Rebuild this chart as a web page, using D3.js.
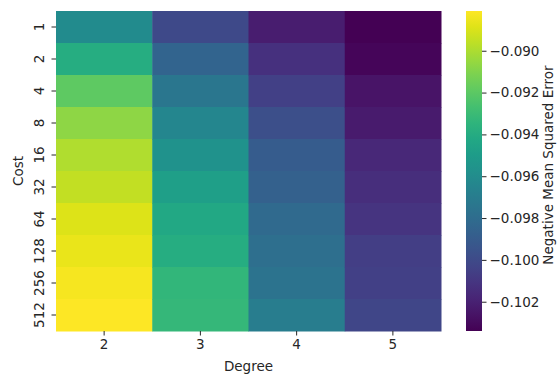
<!DOCTYPE html>
<html><head><meta charset="utf-8">
<script src="https://cdn.jsdelivr.net/npm/d3@7"></script>
<style>body{margin:0;background:#fff}svg{display:block}text{font-family:"DejaVu Sans",sans-serif;fill:#262626}</style>
</head><body><svg id="c" width="557" height="376"></svg>
<script>
const costs = ["1","2","4","8","16","32","64","128","256","512"];
const degrees = ["2","3","4","5"];
const deg2 = [-0.0961,-0.0939,-0.0919,-0.0907,-0.0899,-0.0895,-0.0889,-0.0886,-0.0883,-0.0881];
const deg3 = [-0.1000,-0.0985,-0.0974,-0.0964,-0.0956,-0.0948,-0.0942,-0.0939,-0.0933,-0.0932];
const deg4 = [-0.1022,-0.1013,-0.1005,-0.0997,-0.0990,-0.0987,-0.0982,-0.0979,-0.0976,-0.0970];
const deg5 = [-0.1034,-0.1032,-0.1026,-0.1023,-0.1017,-0.1014,-0.1011,-0.1006,-0.1005,-0.1002];
const cbTicks = [-0.090,-0.092,-0.094,-0.096,-0.098,-0.100,-0.102];
const xLabel = "Degree", yLabel = "Cost", cbLabel = "Negative Mean Squared Error";

const series = [deg2,deg3,deg4,deg5];
const cells = [];
degrees.forEach((d,j)=>costs.forEach((c,i)=>cells.push({d,c,v:series[j][i]})));

const svg = d3.select("#c");
const L=56,R=441,T=11,B=331;
const x = d3.scaleBand().domain(degrees).range([L,R]);
const y = d3.scaleBand().domain(costs).range([T,B]);
const ext = d3.extent(cells,d=>d.v);
const color = d3.scaleSequential(d3.interpolateViridis).domain(ext);
const fs = 13.5;

svg.append("g").selectAll("rect").data(cells).join("rect")
  .attr("x",d=>x(d.d)).attr("y",d=>y(d.c))
  .attr("width",x.bandwidth()+0.5).attr("height",y.bandwidth()+0.5)
  .attr("fill",d=>color(d.v));

// x axis
const gx = svg.append("g").attr("transform",`translate(0,${B})`)
  .call(d3.axisBottom(x).tickSize(4.5).tickPadding(4));
gx.select(".domain").remove();
gx.selectAll("text").style("font-size",fs+"px").attr("fill","#262626");
gx.selectAll("line").attr("stroke","#262626");

// y axis
const gy = svg.append("g").attr("transform",`translate(${L},0)`)
  .call(d3.axisLeft(y).tickSize(4.5).tickPadding(4));
gy.select(".domain").remove();
gy.selectAll("line").attr("stroke","#262626");
gy.selectAll("text").style("font-size",fs+"px").attr("fill","#262626")
  .attr("text-anchor","middle").attr("dx",0).attr("dy",0)
  .attr("x",0).attr("y",0).attr("dominant-baseline","central")
  .attr("transform","translate(-17,0) rotate(-90)");

svg.append("text").text(xLabel).attr("x",(L+R)/2).attr("y",371)
  .attr("text-anchor","middle").style("font-size",fs+"px");
svg.append("text").text(yLabel).attr("transform",`translate(23,${(T+B)/2}) rotate(-90)`)
  .attr("text-anchor","middle").style("font-size",fs+"px");

// colorbar
const cbL=466, cbW=16;
const cy = d3.scaleLinear().domain(ext).range([B,T]);
const defs = svg.append("defs");
const grad = defs.append("linearGradient").attr("id","g").attr("x1",0).attr("y1",1).attr("x2",0).attr("y2",0);
d3.range(0,1.0001,0.05).forEach(t=>grad.append("stop").attr("offset",t).attr("stop-color",d3.interpolateViridis(t)));
svg.append("rect").attr("x",cbL).attr("y",T).attr("width",cbW).attr("height",B-T).attr("fill","url(#g)");
const fmt = v => (v<0?"\u2212":"")+Math.abs(v).toFixed(3);
const gc = svg.append("g").attr("transform",`translate(${cbL+cbW},0)`)
  .call(d3.axisRight(cy).tickValues(cbTicks).tickFormat(fmt).tickSize(4.5).tickPadding(3));
gc.select(".domain").remove();
gc.selectAll("line").attr("stroke","#262626");
gc.selectAll("text").style("font-size",fs+"px").attr("fill","#262626");
svg.append("text").text(cbLabel).attr("transform",`translate(553,${(T+B)/2 - 6}) rotate(-90)`)
  .attr("text-anchor","middle").style("font-size",fs+"px");
</script></body></html>
